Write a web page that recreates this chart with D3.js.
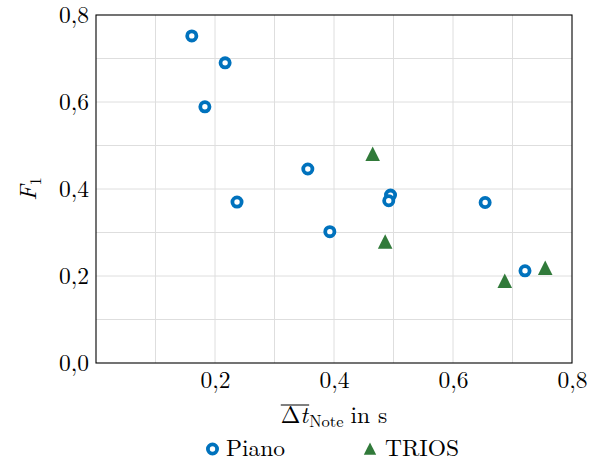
<!DOCTYPE html>
<html>
<head>
<meta charset="utf-8">
<script src="https://cdn.jsdelivr.net/npm/d3@7"></script>
<style>
  body { margin: 0; background: #fff; }
</style>
</head>
<body>
<div id="chart"></div>
<script>
// data
var pianoX = [0.161, 0.217, 0.183, 0.237, 0.356, 0.393, 0.495, 0.492, 0.654, 0.721];
var pianoY = [0.752, 0.690, 0.589, 0.370, 0.446, 0.302, 0.386, 0.373, 0.369, 0.212];
var triosX = [0.465, 0.486, 0.687, 0.755];
var triosY = [0.476, 0.274, 0.184, 0.214];
var xTicks = [0.2, 0.4, 0.6, 0.8];
var yTicks = [0, 0.2, 0.4, 0.6, 0.8];
var seriesNames = ["Piano", "TRIOS"];

var W = 593, H = 462;
var margin = {top: 15, right: 21, bottom: 99, left: 96},
    width = W - margin.left - margin.right,
    height = H - margin.top - margin.bottom;

var blue = "#0072bd", green = "#317a3a";
var fs = 23.5;
var serif = "'Latin Modern Roman', 'Liberation Serif', serif";

var svg = d3.select("#chart").append("svg")
    .attr("width", W)
    .attr("height", H);

var g = svg.append("g")
    .attr("transform", "translate(" + margin.left + "," + margin.top + ")");

var x = d3.scaleLinear().domain([0, 0.8]).range([0, width]);
var y = d3.scaleLinear().domain([0, 0.8]).range([height, 0]);

var fmt = function(d) { return d3.format(".1f")(d).replace(".", ","); };

// grid every 0.1
var grid = d3.range(1, 8).map(function(i) { return i / 10; });
g.append("g").selectAll("line.gx")
  .data(grid).enter().append("line")
    .attr("x1", function(d) { return x(d); })
    .attr("x2", function(d) { return x(d); })
    .attr("y1", 0).attr("y2", height)
    .attr("stroke", "#dedede").attr("stroke-width", 1);
g.append("g").selectAll("line.gy")
  .data(grid).enter().append("line")
    .attr("y1", function(d) { return y(d); })
    .attr("y2", function(d) { return y(d); })
    .attr("x1", 0).attr("x2", width)
    .attr("stroke", "#dedede").attr("stroke-width", 1);

// axes (labels only)
var xAxis = g.append("g")
    .attr("transform", "translate(0," + height + ")")
    .call(d3.axisBottom(x).tickValues(xTicks).tickFormat(fmt).tickSize(0).tickPadding(10));
var yAxis = g.append("g")
    .call(d3.axisLeft(y).tickValues(yTicks).tickFormat(fmt).tickSize(0).tickPadding(7));
[xAxis, yAxis].forEach(function(a) {
  a.select(".domain").remove();
  a.selectAll("text")
    .style("font-family", serif)
    .style("font-size", fs + "px")
    .attr("fill", "#000");
});
xAxis.selectAll("text").attr("dy", "0.71em").attr("y", 8);

// frame
g.append("rect")
    .attr("x", 0).attr("y", 0)
    .attr("width", width).attr("height", height)
    .attr("fill", "none").attr("stroke", "#000").attr("stroke-width", 1.1);

// points
var piano = pianoX.map(function(v, i) { return [v, pianoY[i]]; });
var trios = triosX.map(function(v, i) { return [v, triosY[i]]; });

g.append("g").selectAll("circle")
  .data(piano).enter().append("circle")
    .attr("cx", function(d) { return x(d[0]); })
    .attr("cy", function(d) { return y(d[1]); })
    .attr("r", 4.6)
    .attr("fill", "#fff")
    .attr("stroke", blue)
    .attr("stroke-width", 3.8);

var tri = "M0,-9.5L7.3,5L-7.3,5Z";
g.append("g").selectAll("path")
  .data(trios).enter().append("path")
    .attr("d", tri)
    .attr("transform", function(d) { return "translate(" + x(d[0]) + "," + y(d[1]) + ")"; })
    .attr("fill", green);

// y label: F_1
var yl = svg.append("text")
    .attr("transform", "translate(36," + (margin.top + height / 2) + ") rotate(-90)")
    .attr("text-anchor", "middle")
    .style("font-family", serif)
    .style("font-size", fs + "px");
yl.append("tspan").style("font-style", "italic").text("F");
yl.append("tspan").attr("dy", 5).style("font-size", "16.5px").text("1");

// x label: overline(Δt)_Note in s
var xl = svg.append("g");
var base = 423, gap = 7;
var t1 = xl.append("text").attr("y", base)
    .style("font-family", serif).style("font-size", fs + "px");
t1.append("tspan").text("Δ");
t1.append("tspan").style("font-style", "italic").text("t");
var w1 = t1.node().getComputedTextLength();
var t2 = xl.append("text").attr("y", base + 4)
    .style("font-family", serif).style("font-size", "16.5px").text("Note");
var w2 = t2.node().getComputedTextLength();
var t3 = xl.append("text").attr("y", base)
    .style("font-family", serif).style("font-size", fs + "px").text("in s");
var w3 = t3.node().getComputedTextLength();
var total = w1 + 1 + w2 + gap + w3;
var x0 = margin.left + width / 2 - total / 2;
t1.attr("x", x0);
t2.attr("x", x0 + w1 + 1);
t3.attr("x", x0 + w1 + 1 + w2 + gap);
xl.append("line")
    .attr("x1", x0).attr("x2", x0 + w1 + 1)
    .attr("y1", 405).attr("y2", 405)
    .attr("stroke", "#000").attr("stroke-width", 1);

// legend
var leg = svg.append("g");
leg.append("circle")
    .attr("cx", 212.5).attr("cy", 449)
    .attr("r", 4.6).attr("fill", "#fff")
    .attr("stroke", blue).attr("stroke-width", 3.8);
leg.append("text").attr("x", 226).attr("y", 456)
    .style("font-family", serif).style("font-size", fs + "px").text(seriesNames[0]);
leg.append("path")
    .attr("d", tri)
    .attr("transform", "translate(370,450.5) scale(0.85)")
    .attr("fill", green);
leg.append("text").attr("x", 385).attr("y", 456)
    .style("font-family", serif).style("font-size", fs + "px").text(seriesNames[1]);
</script>
</body>
</html>
